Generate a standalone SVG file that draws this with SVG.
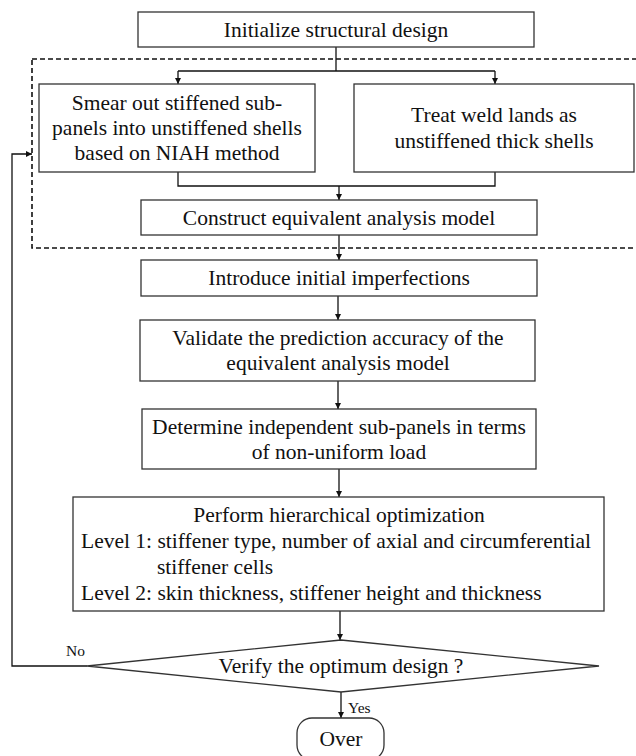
<svg xmlns="http://www.w3.org/2000/svg" width="636" height="756" viewBox="0 0 636 756">
<defs>
<marker id="ah" viewBox="0 0 10 10" refX="10" refY="5" markerWidth="6" markerHeight="6" orient="auto" markerUnits="userSpaceOnUse">
<path d="M0,0 L10,5 L0,10 z" fill="#111"/>
</marker>
<style>
.box{fill:#fff;stroke:#333;stroke-width:1.3}
.t{font-family:"Liberation Serif","Times New Roman",serif;font-size:21.5px;fill:#111;text-anchor:middle}
.s{font-family:"Liberation Serif","Times New Roman",serif;font-size:15.5px;fill:#111}
.c{fill:none;stroke:#111;stroke-width:1.3}
.d{fill:none;stroke:#111;stroke-width:1.6;stroke-dasharray:5,3}
</style>
</defs>
<rect width="636" height="756" fill="#fff"/>
<rect id="group-dashed" class="d" x="32" y="59" width="610" height="189"/>
<g id="connectors">
<path class="c" d="M336,47 V71"/>
<path class="c" d="M178,71 H495"/>
<path class="c" d="M178,71 V84" marker-end="url(#ah)"/>
<path class="c" d="M495,71 V84" marker-end="url(#ah)"/>
<path class="c" d="M178,172 V186 H495 V172"/>
<path class="c" d="M339,186 V200" marker-end="url(#ah)"/>
<path class="c" d="M339,235 V260" marker-end="url(#ah)"/>
<path class="c" d="M338,296 V320" marker-end="url(#ah)"/>
<path class="c" d="M338,381 V409" marker-end="url(#ah)"/>
<path class="c" d="M339,469 V497" marker-end="url(#ah)"/>
<path class="c" d="M340,611 V640" marker-end="url(#ah)"/>
<path class="c" d="M341,692 V718" marker-end="url(#ah)"/>
<path class="c" d="M87,666 H12 V154 H32" marker-end="url(#ah)"/>
<text class="s" x="66" y="656">No</text>
<text class="s" x="348" y="713">Yes</text>
</g>
<g id="n-init">
<rect class="box" x="138" y="12" width="396" height="35"/>
<text class="t" x="336" y="37">Initialize structural design</text>
</g>
<g id="n-smear">
<rect class="box" x="39" y="84" width="276" height="88"/>
<text class="t" x="177" y="110">Smear out stiffened sub-</text>
<text class="t" x="177" y="135">panels into unstiffened shells</text>
<text class="t" x="177" y="160">based on NIAH method</text>
</g>
<g id="n-treat">
<rect class="box" x="354" y="84" width="280" height="88"/>
<text class="t" x="494" y="122">Treat weld lands as</text>
<text class="t" x="494" y="148">unstiffened thick shells</text>
</g>
<g id="n-construct">
<rect class="box" x="141" y="200" width="396" height="35"/>
<text class="t" x="339" y="225">Construct equivalent analysis model</text>
</g>
<g id="n-introduce">
<rect class="box" x="141" y="260" width="396" height="36"/>
<text class="t" x="339" y="285">Introduce initial imperfections</text>
</g>
<g id="n-validate">
<rect class="box" x="140" y="320" width="395" height="61"/>
<text class="t" x="338" y="345">Validate the prediction accuracy of the</text>
<text class="t" x="338" y="370">equivalent analysis model</text>
</g>
<g id="n-determine">
<rect class="box" x="142" y="409" width="394" height="60"/>
<text class="t" x="339" y="434">Determine independent sub-panels in terms</text>
<text class="t" x="339" y="459">of non-uniform load</text>
</g>
<g id="n-perform">
<rect class="box" x="73" y="497" width="531" height="114"/>
<text class="t" x="339" y="522">Perform hierarchical optimization</text>
<text class="t" x="81" y="548" style="text-anchor:start">Level 1: stiffener type, number of axial and circumferential</text>
<text class="t" x="157" y="574" style="text-anchor:start">stiffener cells</text>
<text class="t" x="81" y="600" style="text-anchor:start">Level 2: skin thickness, stiffener height and thickness</text>
</g>
<g id="n-verify">
<path class="box" d="M87,666 L341,640 L599,666 L341,692 Z"/>
<text class="t" x="341" y="673">Verify the optimum design ?</text>
</g>
<g id="n-over">
<rect class="box" x="297" y="718" width="87" height="42" rx="15" ry="15"/>
<text class="t" x="341" y="746">Over</text>
</g>
</svg>
